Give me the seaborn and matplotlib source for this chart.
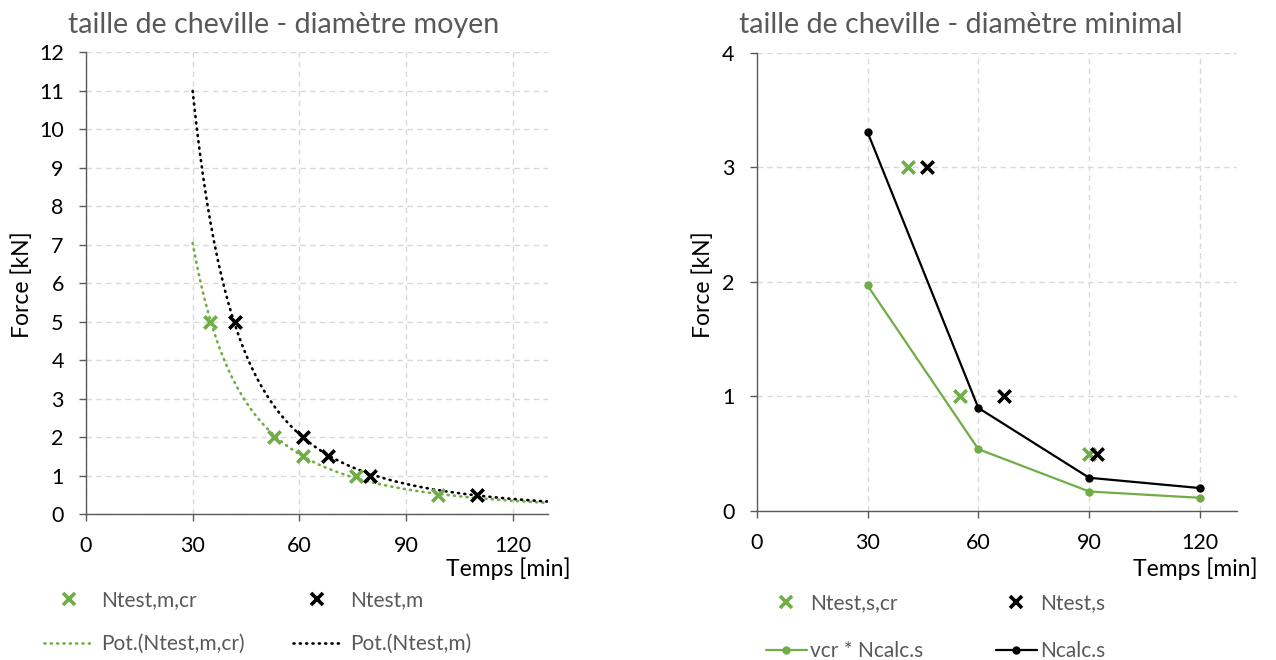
import numpy as np
import pandas as pd
import matplotlib
matplotlib.use('Agg')
import matplotlib.pyplot as plt
from matplotlib.lines import Line2D
import seaborn as sns

# Données - diamètre moyen
x_m_cr = [35, 53, 61, 76, 99]
y_m_cr = [5, 2, 1.5, 1, 0.5]
x_m = [42, 61, 68, 80, 110]
y_m = [5, 2, 1.5, 1, 0.5]

# Données - diamètre minimal
x_s_cr = [41, 55, 90]
y_s_cr = [3, 1, 0.5]
x_s = [46, 67, 92]
y_s = [3, 1, 0.5]
t_calc = [30, 60, 90, 120]
n_calc_cr = [1.97, 0.54, 0.17, 0.115]
n_calc = [3.31, 0.90, 0.29, 0.20]

x_ticks = [0, 30, 60, 90, 120]

GREEN = '#70AD47'
BLACK = '#000000'
GREY_TXT = '#595959'
GRID = '#d9d9d9'
DOTS = (0, (0.4, 2.0))

sns.set_theme(style='white')
plt.rcParams['font.family'] = ['Lato', 'DejaVu Sans']


def power_fit(x, y):
    b, ln_a = np.polyfit(np.log(x), np.log(y), 1)
    return np.exp(ln_a), b


def style_axes(ax, ymax):
    ax.set_xlim(0, 130)
    ax.set_ylim(0, ymax)
    ax.set_xticks(x_ticks)
    ax.set_yticks(range(0, ymax + 1))
    ax.grid(True, color=GRID, linestyle=(0, (4, 3)), linewidth=1)
    ax.set_axisbelow(True)
    for s in ['top', 'right']:
        ax.spines[s].set_visible(False)
    for s in ['left', 'bottom']:
        ax.spines[s].set_color('#595959')
        ax.spines[s].set_linewidth(1)
    ax.tick_params(axis='both', direction='out', length=5, width=1,
                   color='#595959', labelsize=15.5, labelcolor='#000000',
                   left=True, bottom=True)
    ax.tick_params(axis='x', pad=11)
    ax.tick_params(axis='y', pad=11)
    ax.set_xlabel('')
    ax.set_ylabel('')


fig = plt.figure(figsize=(12.76, 6.6), dpi=100)
ax1 = fig.add_axes([0.0674, 0.2212, 0.3621, 0.7000])
ax2 = fig.add_axes([0.5930, 0.2258, 0.3764, 0.6939])

# --- Panneau gauche ---
df_mcr = pd.DataFrame({'t': x_m_cr, 'F': y_m_cr})
df_m = pd.DataFrame({'t': x_m, 'F': y_m})
t_fit = np.linspace(30, 130, 200)
a1, b1 = power_fit(x_m_cr, y_m_cr)
a2, b2 = power_fit(x_m, y_m)
df_fit = pd.DataFrame({'t': t_fit, 'cr': a1 * t_fit ** b1, 'm': a2 * t_fit ** b2})

sns.lineplot(data=df_fit, x='t', y='cr', ax=ax1, color=GREEN, linewidth=1.9,
             linestyle=DOTS, dash_capstyle='round')
sns.lineplot(data=df_fit, x='t', y='m', ax=ax1, color=BLACK, linewidth=1.9,
             linestyle=DOTS, dash_capstyle='round')
sns.scatterplot(data=df_mcr, x='t', y='F', ax=ax1, marker='x', s=80,
                color=GREEN, linewidth=2.6, zorder=5)
sns.scatterplot(data=df_m, x='t', y='F', ax=ax1, marker='x', s=80,
                color=BLACK, linewidth=2.6, zorder=5)
style_axes(ax1, 12)

# --- Panneau droit ---
df_scr = pd.DataFrame({'t': x_s_cr, 'F': y_s_cr})
df_s = pd.DataFrame({'t': x_s, 'F': y_s})
df_calc = pd.DataFrame({'t': t_calc, 'cr': n_calc_cr, 'calc': n_calc})

sns.lineplot(data=df_calc, x='t', y='cr', ax=ax2, color=GREEN, linewidth=1.6,
             marker='o', markersize=6, markeredgewidth=0)
sns.lineplot(data=df_calc, x='t', y='calc', ax=ax2, color=BLACK, linewidth=1.6,
             marker='o', markersize=6, markeredgewidth=0)
sns.scatterplot(data=df_scr, x='t', y='F', ax=ax2, marker='x', s=80,
                color=GREEN, linewidth=2.6, zorder=5)
sns.scatterplot(data=df_s, x='t', y='F', ax=ax2, marker='x', s=80,
                color=BLACK, linewidth=2.6, zorder=5)
style_axes(ax2, 4)

# Titres
fig.text(68 / 1276, 1 - 25 / 660, 'taille de cheville - diamètre moyen',
         fontsize=20.6, color=GREY_TXT, ha='left', va='center')
fig.text(739 / 1276, 1 - 25 / 660, 'taille de cheville - diamètre minimal',
         fontsize=20.6, color=GREY_TXT, ha='left', va='center')

# Libellés d'axes
for xr, yl in [(571, 22), (1258, 703)]:
    fig.text(xr / 1276, 1 - 569 / 660, 'Temps [min]', fontsize=16.5,
             color='#000000', ha='right', va='center')
    fig.text(yl / 1276, 1 - 285 / 660, 'Force [kN]', fontsize=16.5,
             color='#000000', ha='center', va='center', rotation=90)


# Légendes
def xh(c):
    return Line2D([], [], color=c, marker='x', linestyle='none',
                  markersize=9, markeredgewidth=2.6)


h1 = [xh(GREEN),
      Line2D([], [], color=GREEN, linewidth=1.9, linestyle=DOTS,
             dash_capstyle='round'),
      xh(BLACK),
      Line2D([], [], color=BLACK, linewidth=1.9, linestyle=DOTS,
             dash_capstyle='round')]
l1 = ['Ntest,m,cr', 'Pot.(Ntest,m,cr)', 'Ntest,m', 'Pot.(Ntest,m)']
fig.legend(h1, l1, ncol=2, loc='center left', frameon=False,
           bbox_to_anchor=(40 / 1276, 1 - 622 / 660), fontsize=15,
           labelcolor=GREY_TXT, handlelength=2.35, handletextpad=0.4,
           columnspacing=2.3, labelspacing=1.15, borderaxespad=0,
           borderpad=0.2)

h2 = [xh(GREEN),
      Line2D([], [], color=GREEN, linewidth=1.6, marker='o', markersize=5),
      xh(BLACK),
      Line2D([], [], color=BLACK, linewidth=1.6, marker='o', markersize=5)]
l2 = ['Ntest,s,cr', 'vcr * Ncalc.s', 'Ntest,s', 'Ncalc.s']
fig.legend(h2, l2, ncol=2, loc='center left', frameon=False,
           bbox_to_anchor=(762 / 1276, 1 - 627 / 660), fontsize=15,
           labelcolor=GREY_TXT, handlelength=1.95, handletextpad=0.15,
           columnspacing=3.5, labelspacing=1.35, borderaxespad=0,
           borderpad=0.2)

fig.savefig('out.png', dpi=100)
